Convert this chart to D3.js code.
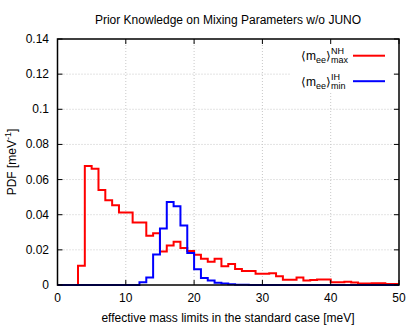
<!DOCTYPE html>
<html>
<head>
<meta charset="utf-8">
<script src="https://cdn.jsdelivr.net/npm/d3@7"></script>
<style>
  body { margin: 0; background: #fff; }
  text { font-family: "Liberation Sans", Arial, Helvetica, sans-serif; fill: #000; }
</style>
</head>
<body>
<div id="chart"></div>
<script>
// histogram bins, 1 meV wide, starting at 0
var binStart = 0,
    binWidth = 1;

// <m_ee>^NH_max
var nhMax = [0, 0, 0, 0.011, 0.0677, 0.0662, 0.054, 0.0482, 0.0454, 0.0412,
             0.0412, 0.0356, 0.0356, 0.028, 0.0294, 0.019, 0.0225, 0.0246, 0.021, 0.0193,
             0.0172, 0.015, 0.0132, 0.0149, 0.0106, 0.012, 0.0091, 0.008, 0.008, 0.0064,
             0.0064, 0.0067, 0.005, 0.003, 0.003, 0.0043, 0.0026, 0.0029, 0.0031, 0.0031,
             0.0015, 0.0015, 0.0019, 0.0014, 0.0009, 0.0009, 0.001, 0.001, 0.0005, 0.0005];

// <m_ee>^IH_min
var ihMin = [0, 0, 0, 0, 0, 0, 0, 0, 0, 0,
             0, 0, 0.0016, 0.0042, 0.0174, 0.0321, 0.0472, 0.0448, 0.0339, 0.0182,
             0.009, 0.004, 0.0025, 0.0013, 0.0008, 0.0004, 0.0002, 0.0001, 0, 0,
             0, 0, 0, 0, 0, 0, 0, 0, 0, 0,
             0, 0, 0, 0, 0, 0, 0, 0, 0, 0];

var xTicks = [0, 10, 20, 30, 40, 50],
    yTicks = [0, 0.02, 0.04, 0.06, 0.08, 0.1, 0.12, 0.14];

var width = 420, height = 327,
    pLeft = 57.5, pRight = 399, pTop = 39, pBottom = 285;

var svg = d3.select("#chart").append("svg")
    .attr("width", width)
    .attr("height", height);

var x = d3.scaleLinear().domain([0, 50]).range([pLeft, pRight]),
    y = d3.scaleLinear().domain([0, 0.14]).range([pBottom, pTop]);

// grid
svg.append("g").selectAll(".vgrid").data(xTicks.slice(1, -1))
    .enter().append("line")
    .attr("x1", function(d) { return x(d); })
    .attr("x2", function(d) { return x(d); })
    .attr("y1", pTop).attr("y2", pBottom)
    .style("stroke", "#c8c8c8").style("stroke-width", "1px")
    .style("stroke-dasharray", "1,2");
svg.append("g").selectAll(".hgrid").data(yTicks.slice(1, -1))
    .enter().append("line")
    .attr("y1", function(d) { return y(d); })
    .attr("y2", function(d) { return y(d); })
    .attr("x1", pLeft).attr("x2", pRight)
    .style("stroke", "#c8c8c8").style("stroke-width", "1px")
    .style("stroke-dasharray", "1,2");

function toSteps(vals) {
  var pts = vals.map(function(v, i) { return [binStart + i*binWidth, v]; });
  pts.push([binStart + vals.length*binWidth, vals[vals.length-1]]);
  return pts;
}

var line = d3.line()
    .x(function(d) { return x(d[0]); })
    .y(function(d) { return y(d[1]); })
    .curve(d3.curveStepAfter);

var series = [
  {vals: nhMax, color: "#ff0000", sup: "NH", sub: "max"},
  {vals: ihMin, color: "#0000ff", sup: "IH", sub: "min"}
];

svg.append("g").selectAll(".hist").data(series)
    .enter().append("path")
    .attr("class", "hist")
    .attr("d", function(d) { return line(toSteps(d.vals)); })
    .style("fill", "none")
    .style("stroke", function(d) { return d.color; })
    .style("stroke-width", "2px")
    .style("stroke-linejoin", "miter");

// legend (opaque key)
svg.append("rect")
    .attr("x", 291).attr("y", 42)
    .attr("width", 102).attr("height", 50)
    .style("fill", "#fff");

series.forEach(function(s, i) {
  var by = 60 + i*25.5,
      g = svg.append("g"),
      cx = 301,
      t;
  t = g.append("text").attr("x", cx).attr("y", by).style("font-size", "12px").text("\u27e8m");
  cx += t.node().getComputedTextLength();
  t = g.append("text").attr("x", cx).attr("y", by + 3).style("font-size", "9px").text("ee");
  cx += t.node().getComputedTextLength();
  t = g.append("text").attr("x", cx).attr("y", by).style("font-size", "12px").text("\u27e9");
  cx += t.node().getComputedTextLength();
  g.append("text").attr("x", cx).attr("y", by - 6).style("font-size", "9px").text(s.sup);
  g.append("text").attr("x", cx).attr("y", by + 3).style("font-size", "9px").text(s.sub);
  g.append("line")
      .attr("x1", 353).attr("x2", 385)
      .attr("y1", by - 4.3).attr("y2", by - 4.3)
      .style("stroke", s.color).style("stroke-width", "2px");
});

// ticks, mirrored on all sides
var tl = 5;
svg.append("g").selectAll(".xt").data(xTicks)
    .enter().append("path")
    .attr("d", function(d) {
      return "M" + x(d) + "," + pBottom + "v" + (-tl) + "M" + x(d) + "," + pTop + "v" + tl;
    })
    .style("stroke", "#000").style("stroke-width", "1px");
svg.append("g").selectAll(".yt").data(yTicks)
    .enter().append("path")
    .attr("d", function(d) {
      return "M" + pLeft + "," + y(d) + "h" + tl + "M" + pRight + "," + y(d) + "h" + (-tl);
    })
    .style("stroke", "#000").style("stroke-width", "1px");

svg.append("rect")
    .attr("x", pLeft).attr("y", pTop)
    .attr("width", pRight - pLeft).attr("height", pBottom - pTop)
    .style("fill", "none").style("stroke", "#000").style("stroke-width", "1.5px");

// tick labels
svg.append("g").selectAll(".xl").data(xTicks)
    .enter().append("text")
    .attr("x", function(d) { return x(d); })
    .attr("y", 302)
    .attr("text-anchor", "middle")
    .style("font-size", "12px")
    .text(function(d) { return d; });
svg.append("g").selectAll(".yl").data(yTicks)
    .enter().append("text")
    .attr("x", 49)
    .attr("y", function(d) { return y(d) + 4; })
    .attr("text-anchor", "end")
    .style("font-size", "12px")
    .text(function(d) { return d; });

// titles
svg.append("text")
    .attr("x", 228).attr("y", 24)
    .attr("text-anchor", "middle")
    .style("font-size", "12px")
    .text("Prior Knowledge on Mixing Parameters w/o JUNO");
svg.append("text")
    .attr("x", 228).attr("y", 322)
    .attr("text-anchor", "middle")
    .style("font-size", "12px")
    .text("effective mass limits in the standard case [meV]");

var yl = svg.append("text")
    .attr("transform", "translate(16," + ((pTop + pBottom)/2) + ") rotate(-90)")
    .attr("text-anchor", "middle")
    .style("font-size", "12px");
yl.append("tspan").text("PDF [meV");
yl.append("tspan").attr("dy", -5).style("font-size", "9px").text("-1");
yl.append("tspan").attr("dy", 5).text("]");
</script>
</body>
</html>
